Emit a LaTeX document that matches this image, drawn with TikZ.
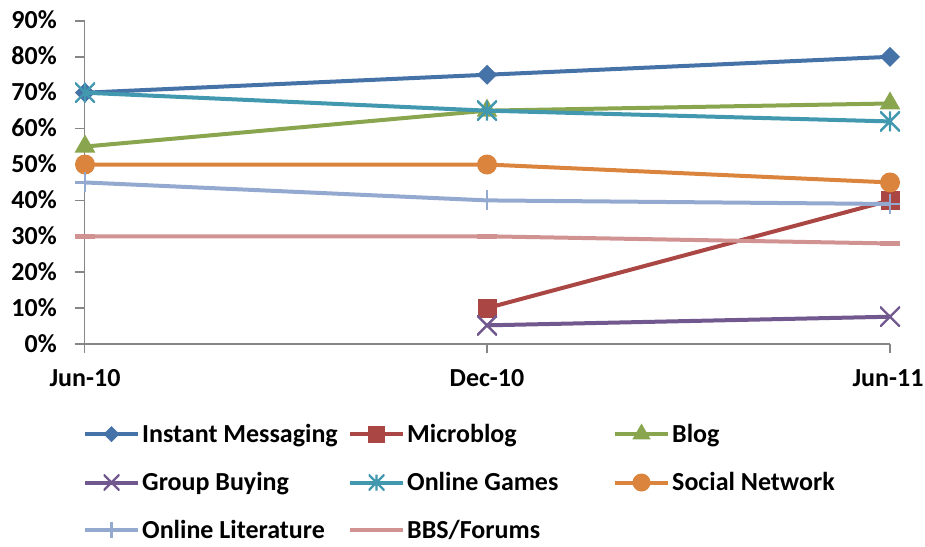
\documentclass[tikz,border=0pt]{standalone}
\usepackage{fontspec}
\setmainfont{Carlito}
\usetikzlibrary{shapes.geometric}
\definecolor{imblue}{HTML}{4572A7}
\definecolor{mbred}{HTML}{AA4643}
\definecolor{blggreen}{HTML}{89A54E}
\definecolor{gbpurple}{HTML}{71588F}
\definecolor{ogteal}{HTML}{4198AF}
\definecolor{snorange}{HTML}{DB843D}
\definecolor{ollight}{HTML}{93A9CF}
\definecolor{bbspink}{HTML}{D19392}
\definecolor{axisgray}{HTML}{868686}
\begin{document}
\begin{tikzpicture}[x=1pt,y=-1pt,font=\fontsize{26}{31}\selectfont\bfseries]
        \tikzstyle{axis}=[draw=axisgray,line width=1.5pt]
        \tikzstyle{series}=[line width=4pt,line join=round]
        \tikzstyle{markbase}=[inner sep=0pt,outer sep=0pt,minimum size=20pt]
        \tikzstyle{diamondmark}=[markbase,diamond,fill]
        \tikzstyle{squaremark}=[markbase,rectangle,fill,minimum size=19pt]
        \tikzstyle{trianglemark}=[markbase,regular polygon,regular polygon sides=3,fill,minimum size=24pt]
        \tikzstyle{circlemark}=[markbase,circle,fill]
        \tikzstyle{crossmark}=[markbase,path picture={
            \draw[line width=2.4pt] (path picture bounding box.north west) -- (path picture bounding box.south east)
                (path picture bounding box.south west) -- (path picture bounding box.north east);}]
        \tikzstyle{starmark}=[markbase,path picture={
            \draw[line width=2.4pt] (path picture bounding box.north west) -- (path picture bounding box.south east)
                (path picture bounding box.south west) -- (path picture bounding box.north east)
                (path picture bounding box.north) -- (path picture bounding box.south);}]
        \tikzstyle{plusmark}=[markbase,path picture={
            \draw[line width=2.4pt] (path picture bounding box.north) -- (path picture bounding box.south)
                (path picture bounding box.west) -- (path picture bounding box.east);}]
        \tikzstyle{dashmark}=[markbase,rectangle,fill,minimum size=0pt,minimum width=20pt,minimum height=5pt]
        \tikzstyle{nomark}=[markbase,minimum size=0pt]
        \tikzstyle{legendtext}=[anchor=base west,inner sep=0pt]
        \useasboundingbox (0,0) rectangle (925,546);
        % axes
        \draw[axis] (84.5,21) -- (84.5,353);
        \draw[axis] (75,344) -- (890,344);
        \foreach \v in {0,...,9}
            \draw[axis] (75,{344-35.9*\v}) -- (84.5,{344-35.9*\v});
        \draw[axis] (487,344) -- (487,353);
        \draw[axis] (890,344) -- (890,353);
        \foreach \v in {0,10,...,90}
            \node[anchor=base east,inner sep=0pt] (ylab\v) at (57,{352-3.59*\v}) {\v\%};
        \node[anchor=base,inner sep=0pt] (xlab1) at (85,386) {Jun-10};
        \node[anchor=base,inner sep=0pt] (xlab2) at (487,386) {Dec-10};
        \node[anchor=base,inner sep=0pt] (xlab3) at (888,386) {Jun-11};
        % data
        \begin{scope}[shift={(0,344)},y=3.59pt]
            \path (85,70) coordinate (im1) (487,75) coordinate (im2) (890,80) coordinate (im3);
            \draw[series,imblue] (im1) -- (im2) -- (im3);
            \foreach \i in {1,2,3} \node[diamondmark,imblue] (imm\i) at (im\i) {};

            \path (487,10) coordinate (mb2) (890,40) coordinate (mb3);
            \draw[series,mbred] (mb2) -- (mb3);
            \foreach \i in {2,3} \node[squaremark,mbred] (mbm\i) at (mb\i) {};

            \path (85,55) coordinate (blg1) (487,65) coordinate (blg2) (890,67) coordinate (blg3);
            \draw[series,blggreen] (blg1) -- (blg2) -- (blg3);
            \foreach \i in {1,2,3} \node[trianglemark,blggreen] (blgm\i) at (blg\i) {};

            \path (487,5.2) coordinate (gb2) (890,7.6) coordinate (gb3);
            \draw[series,gbpurple] (gb2) -- (gb3);
            \foreach \i in {2,3} \node[crossmark,gbpurple] (gbm\i) at (gb\i) {};

            \path (85,70) coordinate (og1) (487,65) coordinate (og2) (890,62) coordinate (og3);
            \draw[series,ogteal] (og1) -- (og2) -- (og3);
            \foreach \i in {1,2,3} \node[starmark,ogteal] (ogm\i) at (og\i) {};

            \path (85,50) coordinate (sn1) (487,50) coordinate (sn2) (890,45) coordinate (sn3);
            \draw[series,snorange] (sn1) -- (sn2) -- (sn3);
            \foreach \i in {1,2,3} \node[circlemark,snorange] (snm\i) at (sn\i) {};

            \path (85,45) coordinate (ol1) (487,40) coordinate (ol2) (890,39) coordinate (ol3);
            \draw[series,ollight] (ol1) -- (ol2) -- (ol3);
            \foreach \i in {1,2,3} \node[plusmark,ollight] (olm\i) at (ol\i) {};

            \path (85,30) coordinate (bbs1) (487,30) coordinate (bbs2) (890,28) coordinate (bbs3);
            \draw[series,bbspink] (bbs1) -- (bbs2) -- (bbs3);
            \foreach \i in {1,2,3} \node[dashmark,bbspink] (bbsm\i) at (bbs\i) {};
        \end{scope}
        % legend
        \foreach \lx/\ly/\col/\mk/\sz/\name/\txt in {
            85/434/imblue/diamondmark/16/im/Instant Messaging,
            350/434/mbred/squaremark/17/mb/Microblog,
            615/434/blggreen/trianglemark/21/blg/Blog,
            85/482.5/gbpurple/crossmark/16/gb/Group Buying,
            350/482.5/ogteal/starmark/16/og/Online Games,
            615/482.5/snorange/circlemark/18/sn/Social Network,
            85/530/ollight/plusmark/16/ol/Online Literature,
            350/530/bbspink/nomark/0/bbs/{BBS/Forums}}
        {
            \path (\lx,\ly) coordinate (\name-a) (\lx+53,\ly) coordinate (\name-b);
            \draw[series,\col] (\name-a) -- (\name-b);
            \node[\mk,\col,minimum size=\sz pt] (\name-key) at (\lx+26.5,\ly) {};
            \node[legendtext] (\name-text) at (\lx+57,\ly+8) {\txt};
        }
\end{tikzpicture}
\end{document}
